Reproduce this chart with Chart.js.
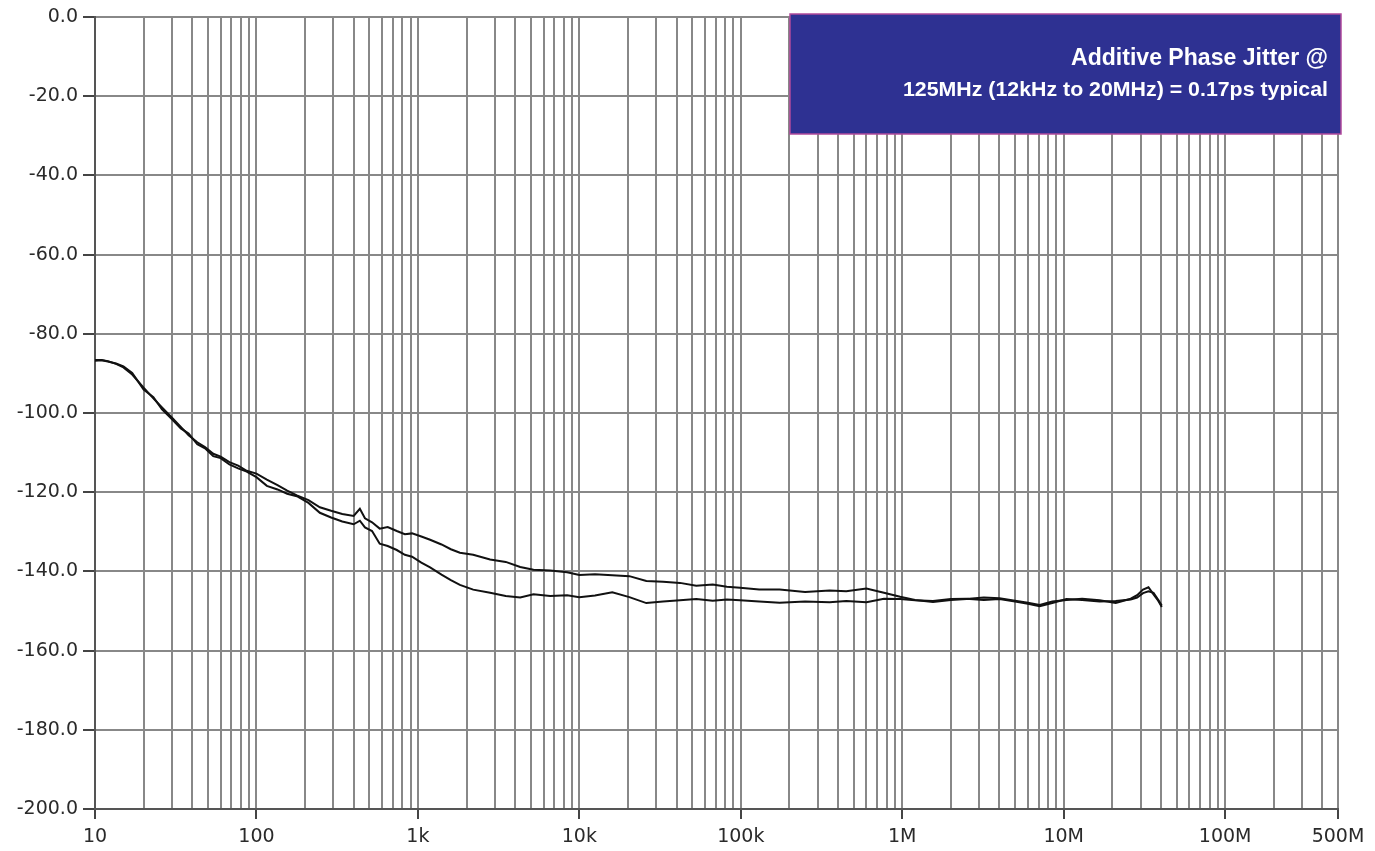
<!DOCTYPE html>
<html lang="en">
<head>
<meta charset="UTF-8">
<title>Additive Phase Jitter</title>
<script src="https://cdn.jsdelivr.net/npm/chart.js"></script>
<style>
  html, body { margin: 0; padding: 0; background: #fff; }
  .wrap { width: 1375px; height: 851px; }
</style>
</head>
<body>
<div class="wrap"><canvas id="noise"></canvas></div>
<script>
// offset frequency (Hz)
const freqHz = [10, 11, 12, 13.5, 15, 17, 20, 23, 26, 30,
  34, 38, 43, 48, 54, 60, 68, 77, 87, 100,
  116, 135, 155, 178, 210, 247, 290, 340, 400, 437,
  470, 520, 580, 650, 740, 830, 920, 1050, 1190, 1400,
  1600, 1820, 2200, 2800, 3500, 4300, 5200, 6600, 8400, 10000,
  12500, 16000, 20400, 26000, 33000, 42000, 53000, 67000, 82000, 99000,
  130000, 174000, 250000, 355000, 450000, 600000, 770000, 970000, 1.2e6, 1.55e6,
  2e6, 2.5e6, 3.2e6, 4e6, 5e6, 6e6, 7.1e6, 8.5e6, 1.04e7, 1.3e7,
  1.67e7, 2.1e7, 2.6e7, 2.85e7, 3.1e7, 3.35e7, 3.6e7, 3.85e7, 4.05e7];

// phase noise, dBc/Hz
const upperDb = [-86.6, -86.6, -86.9, -87.6, -88.5, -90.3, -93.6, -96.3, -98.6, -101.2,
  -103.5, -105.6, -107.4, -108.6, -110.3, -111.0, -112.4, -113.3, -114.6, -115.3,
  -116.8, -118.2, -119.6, -120.8, -122.0, -123.8, -124.7, -125.5, -126.0, -124.2,
  -126.6, -127.6, -129.2, -128.8, -129.8, -130.6, -130.4, -131.2, -132.0, -133.2,
  -134.4, -135.3, -135.8, -137.0, -137.6, -138.9, -139.6, -139.8, -140.2, -140.9,
  -140.7, -141.0, -141.2, -142.4, -142.6, -142.9, -143.6, -143.3, -143.9, -144.1,
  -144.6, -144.6, -145.2, -144.8, -145.0, -144.3, -145.4, -146.4, -147.2, -147.7,
  -147.2, -147.0, -146.6, -146.8, -147.4, -147.9, -148.5, -147.6, -147.2, -146.9,
  -147.3, -148.0, -146.9, -146.0, -144.6, -144.0, -145.8, -147.4, -149.0];

const lowerDb = [-86.8, -86.7, -87.0, -87.5, -88.2, -89.9, -94.1, -96.0, -99.1, -101.6,
  -103.9, -105.2, -107.9, -108.9, -110.9, -111.4, -113.0, -114.0, -114.8, -116.2,
  -118.4, -119.3, -120.4, -121.0, -122.7, -125.2, -126.4, -127.4, -128.1, -127.2,
  -128.9, -129.8, -133.0, -133.6, -134.6, -135.8, -136.3, -137.8, -139.0, -140.8,
  -142.2, -143.4, -144.6, -145.4, -146.2, -146.6, -145.8, -146.2, -146.0, -146.5,
  -146.1, -145.3, -146.5, -148.0, -147.6, -147.3, -147.0, -147.4, -147.1, -147.3,
  -147.6, -147.9, -147.6, -147.8, -147.5, -147.8, -146.9, -147.0, -147.3, -147.5,
  -147.0, -146.9, -147.2, -147.0, -147.6, -148.2, -148.8, -148.0, -147.0, -147.2,
  -147.6, -147.5, -147.1, -146.6, -145.5, -145.0, -145.4, -147.2, -148.6];

const xTickValues = [10, 100, 1e3, 1e4, 1e5, 1e6, 1e7, 1e8, 5e8];
const xTickLabels = ['10', '100', '1k', '10k', '100k', '1M', '10M', '100M', '500M'];
const boxLines = ['Additive Phase Jitter @', '125MHz (12kHz to 20MHz) = 0.17ps typical'];

const toPoints = ys => freqHz.map((f, i) => ({ x: f, y: ys[i] }));
const isMajor = v => xTickValues.some(t => Math.abs(t - v) / t < 1e-6);

const gridGray = '#888888';
const labelFont = { family: 'DejaVu Sans', size: 19 };

const jitterBox = {
  id: 'jitterBox',
  afterDraw(chart) {
    const c = chart.ctx;
    const a = chart.chartArea;
    const x0 = 790, y0 = a.top - 3, x1 = a.right + 3, y1 = a.top + 117;
    c.save();
    c.fillStyle = '#2e3192';
    c.fillRect(x0, y0, x1 - x0, y1 - y0);
    c.strokeStyle = '#b04a9c';
    c.lineWidth = 1.5;
    c.strokeRect(x0, y0, x1 - x0, y1 - y0);
    c.fillStyle = '#ffffff';
    c.textAlign = 'right';
    c.textBaseline = 'alphabetic';
    const fit = (txt, size, width, xr, yb) => {
      c.font = 'bold ' + size + 'px "Liberation Sans", Arial, sans-serif';
      const w = c.measureText(txt).width;
      c.save();
      c.translate(xr, yb);
      c.scale(width / w, 1);
      c.fillText(txt, 0, 0);
      c.restore();
    };
    fit(boxLines[0], 24, 257, x1 - 13, y0 + 51);
    fit(boxLines[1], 21, 425, x1 - 13, y0 + 82);
    c.restore();
  }
};

new Chart(document.getElementById('noise'), {
  type: 'line',
  data: {
    datasets: [
      { data: toPoints(upperDb), borderColor: '#111', borderWidth: 2, pointRadius: 0, tension: 0 },
      { data: toPoints(lowerDb), borderColor: '#111', borderWidth: 2, pointRadius: 0, tension: 0 }
    ]
  },
  options: {
    responsive: true,
    maintainAspectRatio: false,
    animation: false,
    layout: { padding: { top: 17, right: 37, left: 0, bottom: 0 } },
    plugins: { legend: { display: false }, tooltip: { enabled: false } },
    scales: {
      x: {
        type: 'logarithmic',
        min: 10,
        max: 5e8,
        afterBuildTicks: scale => {
          const t = [];
          for (let d = 10; d <= 1e8; d *= 10) {
            for (let m = 1; m <= 9; m++) {
              if (m * d < 5e8) t.push({ value: m * d });
            }
          }
          t.push({ value: 5e8 });
          scale.ticks = t;
        },
        afterFit: scale => { scale.height = 42; },
        ticks: {
          autoSkip: false,
          maxRotation: 0,
          minRotation: 0,
          padding: 7,
          color: '#2a2a2a',
          font: labelFont,
          callback: v => {
            const i = xTickValues.findIndex(t => Math.abs(t - v) / t < 1e-6);
            return i >= 0 ? xTickLabels[i] : '';
          }
        },
        grid: {
          color: gridGray,
          lineWidth: 2,
          tickLength: 10,
          tickColor: ctx => isMajor(ctx.tick.value) ? '#444' : 'rgba(0,0,0,0)'
        },
        border: { color: '#555', width: 2 }
      },
      y: {
        min: -200,
        max: 0,
        afterFit: scale => { scale.width = 95; },
        ticks: {
          stepSize: 20,
          padding: 5,
          color: '#2a2a2a',
          font: labelFont,
          callback: v => v.toFixed(1)
        },
        grid: { color: gridGray, lineWidth: 2, tickLength: 12, tickColor: '#444' },
        border: { color: '#555', width: 2 }
      }
    }
  },
  plugins: [jitterBox]
});
</script>
</body>
</html>
